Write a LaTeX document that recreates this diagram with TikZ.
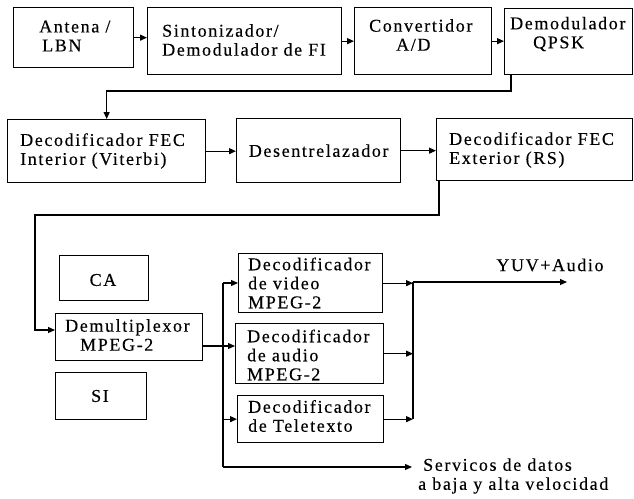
\documentclass[tikz,border=0pt]{standalone}
\usepackage{fontspec}
\setmainfont{Liberation Serif}[LetterSpace=9,FakeBold=0.3]
\usetikzlibrary{arrows.meta}
\begin{document}
\begin{tikzpicture}[x=1pt,y=-1pt,
  blk/.style={draw, line width=1.3pt, inner sep=0pt, anchor=north west},
  txt/.style={inner sep=0pt, align=left, anchor=west, font=\fontsize{18}{19}\selectfont},
  ctxt/.style={inner sep=0pt, align=center, font=\fontsize{18}{19}\selectfont},
  ln/.style={line width=1.2pt},
  arr/.style={line width=1.2pt, -{Triangle[length=7pt,width=6pt]}}]
\useasboundingbox (0,0) rectangle (634,498);
% boxes
\node[blk, minimum width=120pt, minimum height=60pt] (ant) at (13,7) {};
\node[blk, minimum width=194pt, minimum height=67pt] (sin) at (147,7) {};
\node[blk, minimum width=137pt, minimum height=67pt] (conv) at (354,7) {};
\node[blk, minimum width=128pt, minimum height=66pt] (dem) at (504,8) {};
\node[blk, minimum width=198pt, minimum height=63pt] (fi) at (7,119) {};
\node[blk, minimum width=164pt, minimum height=64pt] (des) at (236,118) {};
\node[blk, minimum width=196pt, minimum height=62pt] (fe) at (436,118) {};
\node[blk, minimum width=89pt, minimum height=45pt] (ca) at (59,255) {};
\node[blk, minimum width=147pt, minimum height=47pt] (dmx) at (55,313) {};
\node[blk, minimum width=91pt, minimum height=47pt] (si) at (55,372) {};
\node[blk, minimum width=144pt, minimum height=59pt] (vid) at (238,253) {};
\node[blk, minimum width=148pt, minimum height=60pt] (aud) at (235,323) {};
\node[blk, minimum width=146pt, minimum height=47pt] (tel) at (237,395) {};
% texts
\node[txt] (antT) at (39,36) {Antena /\\\hspace{3pt}LBN};
\node[txt] (sinT) at (162,40) {Sintonizador/\\Demodulador de FI};
\node[txt] (convT) at (369,35) {Convertidor\\\hspace{27pt}A/D};
\node[txt] (demT) at (510,34) {Demodulador\\\hspace{23pt}QPSK};
\node[txt] (fiT) at (20,151) {Decodificador FEC\\Interior (Viterbi)};
\node[ctxt] (desT) at (des.center) {Desentrelazador};
\node[txt] (feT) at (449,150) {Decodificador FEC\\Exterior (RS)};
\node[ctxt] (caT) at (103,280) {CA};
\node[ctxt] (siT) at (100,396) {SI};
\node[txt] (dmxT) at (65,335) {Demultiplexor\\\hspace{15pt}MPEG-2};
\node[txt] (vidT) at (248,283) {Decodificador\\de video\\MPEG-2};
\node[txt] (audT) at (247,355) {Decodificador\\de audio\\MPEG-2};
\node[txt] (telT) at (248,416) {Decodificador\\de Teletexto};
\node[ctxt] (yuvT) at (550,265) {YUV+Audio};
\node[txt] (srvT) at (418,476) {\hspace{5pt}Servicos de datos\\a baja y alta velocidad};
% coordinates
\coordinate (c1) at (511,91);
\coordinate (c2) at (439,215);
\coordinate (c3) at (35,330);
\coordinate (b1) at (223,283);
\coordinate (bm) at (223,346);
\coordinate (b2) at (223,467);
\coordinate (e2) at (412,467);
\coordinate (r1) at (413,282);
\coordinate (yuv) at (567,282);
% connectors
\draw[arr] (ant.east) -- (ant.east -| sin.west);
\draw[arr] (sin.east) -- (sin.east -| conv.west);
\draw[arr] (conv.east) -- (conv.east -| dem.west);
\draw[arr] (c1 |- dem.south) -- (c1) -- (fi.north |- c1) -- (fi.north);
\draw[arr] (fi.east) -- (fi.east -| des.west);
\draw[arr] (des.east) -- (des.east -| fe.west);
\draw[arr] (c2 |- fe.south) -- (c2) -- (c3 |- c2) -- (c3) -- (c3 -| dmx.west);
\draw[ln] (b1) -- (b2);
\draw[arr] (b1) -- (b1 -| vid.west);
\draw[arr] (dmx.east |- bm) -- (bm -| aud.west);
\draw[arr] (b1 |- tel.west) -- (tel.west);
\draw[arr] (b2) -- (e2);
\draw[ln] (r1) -- (r1 |- tel.east);
\draw[arr] (vid.east) -- (vid.east -| r1);
\draw[arr] (aud.east) -- (aud.east -| r1);
\draw[arr] (tel.east) -- (tel.east -| r1);
\draw[arr] (r1) -- (yuv);
\end{tikzpicture}
\end{document}
